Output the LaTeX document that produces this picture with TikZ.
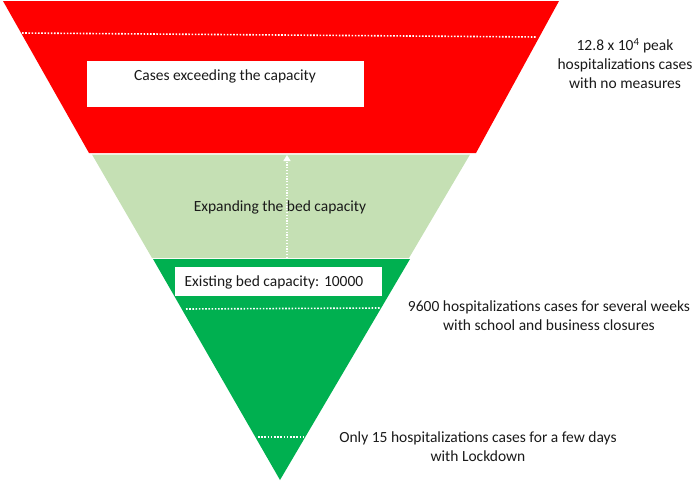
\documentclass[tikz,border=0pt]{standalone}
\usepackage{fontspec}
\setmainfont{Carlito}
\usetikzlibrary{arrows.meta}
\definecolor{bandred}{HTML}{FF0000}
\definecolor{bandlight}{HTML}{C5E0B4}
\definecolor{banddark}{HTML}{00B050}
\definecolor{txt}{HTML}{1A1A1A}
\tikzset{
  lbl/.style={align=center, font=\fontsize{15.5}{19}\selectfont, text=txt, inner sep=0pt},
  wbox/.style={fill=white, draw=none, inner sep=0pt},
  dotline/.style={draw=white, line width=1.6pt, dash pattern=on 1.6pt off 1.6pt},
}
\begin{document}
\begin{tikzpicture}[x=1pt,y=-1pt]
\useasboundingbox (0,0) rectangle (697,482);
% bands
\fill[bandred] (3,1) -- (559,1) -- (476,153) -- (89,153) -- cycle;
\fill[bandlight] (92,154.5) -- (470,154.5) -- (409,258) -- (152,258) -- cycle;
\fill[banddark] (153,259) -- (410,259) -- (280,480) -- cycle;
% white boxes
\fill[white] (87,61) rectangle (364,107);
\node[lbl] (exceed) at (225,76) {Cases exceeding the capacity};
\fill[white] (175,267) rectangle (382,296);
\node[lbl] (exist) at (274,282) {Existing bed capacity: 10000};
% dotted lines
\coordinate (d1a) at (22,33); \coordinate (d1b) at (537,37);
\coordinate (d2a) at (186,309); \coordinate (d2b) at (380,308);
\coordinate (d3a) at (258,437); \coordinate (d3b) at (304,437);
\draw[dotline] (d1a) -- (d1b);
\draw[dotline] (d2a) -- (d2b);
\draw[dotline] (d3a) -- (d3b);
% arrow
\coordinate (arrS) at (287,258);
\coordinate (arrE) at (287,155);
\draw[dotline, line width=1.3pt, dash pattern=on 1.3pt off 1.5pt, -{Triangle[width=7pt,length=6pt]}] (arrS) -- (arrE);
% labels
\node[lbl] (expand) at (280,207) {Expanding the bed capacity};
\node[lbl] (peak) at (625,63.5) {12.8 x 10\textsuperscript{4} peak\\hospitalizations cases\\with no measures};
\node[lbl] (closure) at (549,316) {9600 hospitalizations cases for several weeks\\with school and business closures};
\node[lbl] (lock) at (478,446.5) {Only 15 hospitalizations cases for a few days\\with Lockdown};
\end{tikzpicture}
\end{document}
